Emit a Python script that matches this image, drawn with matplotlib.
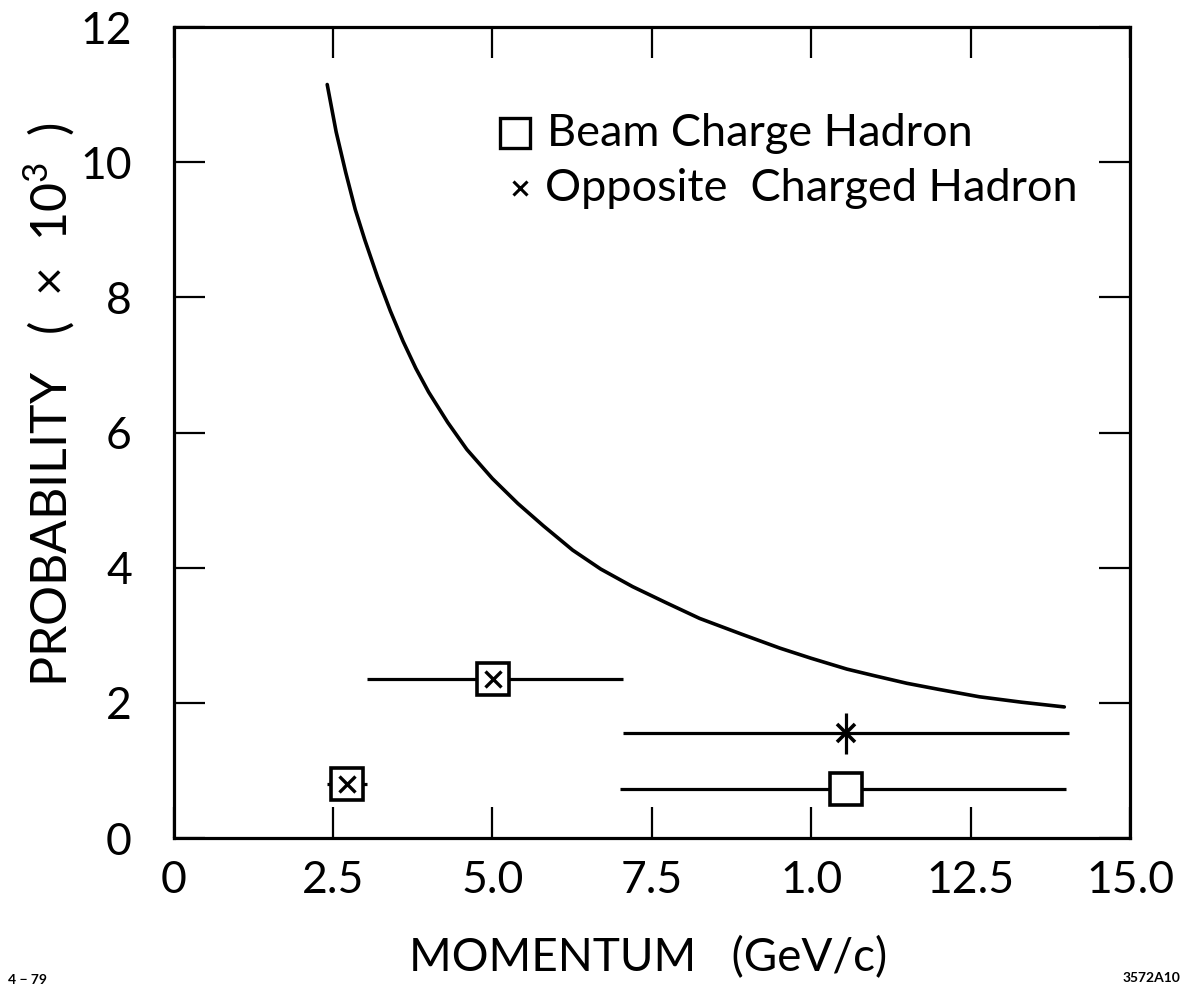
import matplotlib
matplotlib.use("Agg")
import matplotlib.pyplot as plt

plt.rcParams['font.family'] = ['Lato', 'Roboto', 'DejaVu Sans']
plt.rcParams['font.weight'] = 'normal'
plt.rcParams['axes.labelweight'] = 'normal'
plt.rcParams['mathtext.fontset'] = 'custom'
plt.rcParams['mathtext.rm'] = 'Lato'

# Curve (momentum, probability x10^3)
curve_p = [2.41, 2.55, 2.70, 2.85, 3.00, 3.20, 3.40, 3.60, 3.80, 4.00,
           4.30, 4.60, 5.00, 5.40, 5.80, 6.26, 6.70, 7.20, 7.73, 8.25,
           8.90, 9.51, 10.00, 10.56, 11.00, 11.50, 12.00, 12.64, 13.30, 13.97]
curve_prob = [11.15, 10.45, 9.85, 9.30, 8.85, 8.30, 7.80, 7.35, 6.95, 6.60,
              6.15, 5.75, 5.32, 4.95, 4.62, 4.26, 3.98, 3.72, 3.48, 3.25,
              3.02, 2.81, 2.66, 2.50, 2.40, 2.29, 2.20, 2.09, 2.01, 1.94]

# Points where both species coincide (box with x)
both_p = [2.72, 5.01]
both_prob = [0.80, 2.35]
both_xlo = [2.40, 3.03]
both_xhi = [3.03, 7.05]

# Beam charge hadron (open box)
beam_p = [10.55]
beam_prob = [0.72]
beam_xlo = [7.00]
beam_xhi = [14.00]

# Opposite charged hadron (x)
opp_p = [10.55]
opp_prob = [1.55]
opp_xlo = [7.05]
opp_xhi = [14.05]
opp_yerr = [0.30]

xticks = [0, 2.5, 5.0, 7.5, 10.0, 12.5, 15.0]
xticklabels = ["0", "2.5", "5.0", "7.5", "1.0", "12.5", "15.0"]
yticks = [0, 2, 4, 6, 8, 10, 12]
yticklabels = ["0", "2", "4", "6", "8", "10", "12"]

fig = plt.figure(figsize=(11.96, 9.92), dpi=100)
ax = fig.add_axes([0.1451, 0.1552, 0.7997, 0.8175])

lw = 2.3
ax.plot(curve_p, curve_prob, color='black', lw=2.6, solid_capstyle='round',
        solid_joinstyle='round')

def xerr(c, lo, hi):
    return [[ci - l for ci, l in zip(c, lo)], [h - ci for ci, h in zip(c, hi)]]

ax.errorbar(both_p, both_prob, xerr=xerr(both_p, both_xlo, both_xhi), fmt='none',
            ecolor='black', elinewidth=lw, capsize=0, zorder=2)
ax.plot(both_p, both_prob, ls='none', marker='s', ms=23, mfc='white', mec='black',
        mew=2.6, zorder=3)
ax.plot(both_p, both_prob, ls='none', marker='x', ms=12, mec='black', mew=2.4, zorder=4)

ax.errorbar(beam_p, beam_prob, xerr=xerr(beam_p, beam_xlo, beam_xhi), fmt='none',
            ecolor='black', elinewidth=lw, capsize=0, zorder=2)
ax.plot(beam_p, beam_prob, ls='none', marker='s', ms=23, mfc='white', mec='black',
        mew=2.6, zorder=3)

ax.errorbar(opp_p, opp_prob, xerr=xerr(opp_p, opp_xlo, opp_xhi), yerr=opp_yerr,
            fmt='none', ecolor='black', elinewidth=lw, capsize=0, zorder=2)
ax.plot(opp_p, opp_prob, ls='none', marker='x', ms=13, mec='black', mew=2.6, zorder=4)

ax.set_xlim(0, 15)
ax.set_ylim(0, 12)
ax.set_xticks(xticks)
ax.set_xticklabels(xticklabels)
ax.set_yticks(yticks)
ax.set_yticklabels(yticklabels)
ax.tick_params(direction='in', length=22, width=1.6, top=True, right=True,
               labelsize=32)
ax.tick_params(axis='x', pad=16)
ax.tick_params(axis='y', pad=30)
for s in ax.spines.values():
    s.set_linewidth(2.3)

ax.set_xlabel("MOMENTUM   (GeV/c)", fontsize=33, va='center')
ax.xaxis.set_label_coords(0.496, -0.148)
ax.set_ylabel("PROBABILITY   (  ×  10$^{3}$  )", fontsize=36, va='center')
ax.yaxis.set_label_coords(-0.131, 0.535)

# legend drawn by hand
ax.plot([0.357], [0.869], transform=ax.transAxes, marker='s', ms=22, mfc='white',
        mec='black', mew=2.4, ls='none', clip_on=False)
ax.text(0.390, 0.869, "Beam Charge Hadron", transform=ax.transAxes,
        fontsize=32.5, va='center', ha='left')
ax.plot([0.362], [0.801], transform=ax.transAxes, marker='x', ms=10, mec='black',
        mew=2.2, ls='none', clip_on=False)
ax.text(0.388, 0.801, "Opposite  Charged Hadron", transform=ax.transAxes,
        fontsize=32.5, va='center', ha='left')

fig.text(8 / 1196, 1 - 980 / 992, "4 − 79", fontsize=10, weight='bold',
         ha='left', va='center')
fig.text(1180 / 1196, 1 - 978 / 992, "3572A10", fontsize=10, weight='bold',
         ha='right', va='center')

fig.savefig("out.png", dpi=100)
